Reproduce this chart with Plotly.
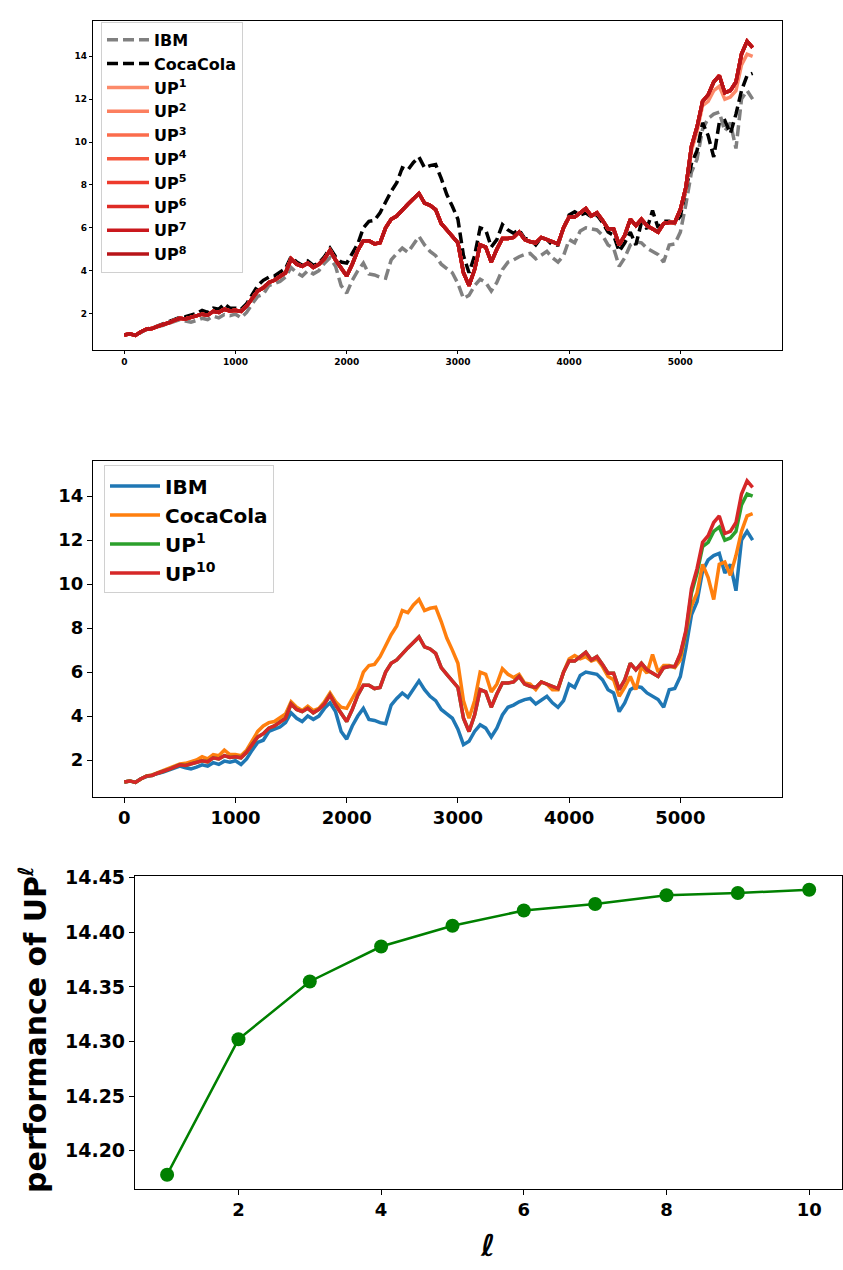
import plotly.graph_objects as go


# trading day index (every 50th day)
days = list(range(0, 5651, 50))

ibm = [
    1.0, 1.05, 0.98, 1.15, 1.25, 1.3, 1.38, 1.45, 1.55, 1.65,
    1.72, 1.65, 1.6, 1.68, 1.78, 1.72, 1.88, 1.8, 1.95, 1.9,
    1.97, 1.8, 2.05, 2.45, 2.8, 2.9, 3.3, 3.4, 3.5, 3.7,
    4.15, 3.9, 3.75, 4.0, 3.85, 4.0, 4.35, 4.6, 4.2, 3.3,
    2.95, 3.55, 4.0, 4.35, 3.85, 3.8, 3.7, 3.65, 4.5, 4.8,
    5.05, 4.85, 5.2, 5.6, 5.2, 4.9, 4.7, 4.3, 4.1, 3.9,
    3.4, 2.7, 2.85, 3.3, 3.6, 3.45, 3.05, 3.45, 4.05, 4.4,
    4.5, 4.65, 4.75, 4.8, 4.55, 4.75, 4.9, 4.6, 4.4, 4.7,
    5.45, 5.3, 5.85, 6.0, 5.95, 5.9, 5.65, 5.2, 5.05, 4.2,
    4.6, 5.2, 5.35, 5.3, 5.05, 4.9, 4.75, 4.4, 5.2, 5.25,
    5.8, 7.1, 8.6, 9.2, 10.6, 11.1, 11.3, 11.4, 10.5, 10.9,
    9.7, 12.0, 12.4, 12.0
]

cocacola = [
    1.0, 1.05, 0.98, 1.15, 1.28, 1.32, 1.42, 1.48, 1.58, 1.7,
    1.82, 1.85, 1.92, 2.0, 2.15, 2.05, 2.25, 2.2, 2.45, 2.25,
    2.25, 2.2, 2.45, 2.9, 3.3, 3.55, 3.7, 3.75, 3.95, 4.1,
    4.65, 4.4, 4.25, 4.45, 4.25, 4.35, 4.65, 5.05, 4.65, 4.4,
    4.35, 4.8, 5.25, 6.0, 6.3, 6.35, 6.7, 7.2, 7.7, 8.1,
    8.8, 8.7, 9.05, 9.3, 8.8, 8.9, 8.95, 8.3, 7.55, 7.0,
    6.4, 4.7, 3.9, 4.7, 6.0, 5.9, 5.1, 5.45, 6.15, 5.9,
    5.75, 5.9, 5.5, 5.45, 5.2, 5.55, 5.45, 5.2, 5.2, 6.0,
    6.6, 6.75, 6.6, 6.7, 6.5, 6.6, 6.25, 5.8, 5.65, 4.9,
    5.3, 5.8, 5.2, 6.25, 5.95, 6.8, 6.0, 6.3, 6.3, 6.2,
    6.55, 7.8, 9.0, 9.6, 10.9, 10.3, 9.3, 10.9, 11.0, 10.4,
    11.3, 12.4, 13.1, 13.2
]

# UP^l curves coincide up to day ~5000
up_base = [
    1.0, 1.05, 0.98, 1.15, 1.27, 1.3, 1.4, 1.47, 1.57, 1.68,
    1.78, 1.75, 1.82, 1.88, 1.97, 1.92, 2.1, 2.05, 2.2, 2.12,
    2.15, 2.1, 2.35, 2.7, 3.05, 3.2, 3.45, 3.55, 3.75, 3.9,
    4.55, 4.3, 4.2, 4.35, 4.15, 4.3, 4.55, 4.95, 4.5, 4.1,
    3.75, 4.3, 4.95, 5.4, 5.4, 5.25, 5.3, 6.0, 6.4, 6.55,
    6.85, 7.1, 7.35, 7.6, 7.15, 7.05, 6.85, 6.2, 5.9, 5.6,
    5.3, 3.9, 3.3, 4.05, 5.2, 5.1, 4.4, 5.0, 5.5, 5.5,
    5.55, 5.8, 5.45, 5.35, 5.3, 5.55, 5.45, 5.35, 5.25, 6.0,
    6.5, 6.5, 6.7, 6.9, 6.55, 6.7, 6.35, 5.95, 5.95, 5.2,
    5.65, 6.4, 6.1, 6.4, 6.1, 5.95, 5.8, 6.2, 6.25, 6.25
]

up1_tail = [6.8, 7.8, 9.6, 10.5, 11.7, 11.9, 12.4, 12.6, 12.0, 12.1, 12.4, 13.6, 14.1, 14.0]
up10_tail = [6.85, 7.9, 9.8, 10.7, 11.9, 12.2, 12.8, 13.1, 12.3, 12.4, 12.8, 14.1, 14.7, 14.4]

ells = [1, 2, 3, 4, 5, 6, 7, 8, 9, 10]
performance = [14.178, 14.302, 14.355, 14.387, 14.406, 14.420, 14.426, 14.434, 14.436, 14.439]

reds = ["#fc8a6a", "#fc7f5f", "#fb6c4c", "#f6583e", "#ee3a2c", "#de2b25", "#ca181d", "#b81419"]

W, H = 843, 1270
BOLD = dict(family="DejaVu Sans", color="black", weight="bold")


def dom_x(a, b):
    return [a / W, b / W]


def dom_y(top, bottom):
    return [1 - bottom / H, 1 - top / H]


fig = go.Figure()

# ---- top panel: dashed stocks + UP^1..UP^8
fig.add_trace(
    go.Scatter(
        x=days, y=ibm, mode="lines", name="IBM",
        line=dict(color="#808080", width=3.5, dash="11px,5px"),
        xaxis="x", yaxis="y", legend="legend"
    )
)
fig.add_trace(
    go.Scatter(
        x=days, y=cocacola, mode="lines", name="CocaCola",
        line=dict(color="black", width=3.5, dash="11px,5px"),
        xaxis="x", yaxis="y", legend="legend"
    )
)
for i, color in enumerate(reds):
    tail = up1_tail if i == 0 else up10_tail
    fig.add_trace(
        go.Scatter(
            x=days, y=up_base + tail, mode="lines",
            name="UP<sup>%d</sup>" % (i + 1),
            line=dict(color=color, width=3.5),
            xaxis="x", yaxis="y", legend="legend"
        )
    )

# ---- middle panel
middle = [
    ("IBM", ibm, "#1f77b4"),
    ("CocaCola", cocacola, "#ff7f0e"),
    ("UP<sup>1</sup>", up_base + up1_tail, "#2ca02c"),
    ("UP<sup>10</sup>", up_base + up10_tail, "#d62728"),
]
for name, values, color in middle:
    fig.add_trace(
        go.Scatter(
            x=days, y=values, mode="lines", name=name,
            line=dict(color=color, width=3.5),
            xaxis="x2", yaxis="y2", legend="legend2"
        )
    )

# ---- bottom panel
fig.add_trace(
    go.Scatter(
        x=ells, y=performance, mode="lines+markers",
        line=dict(color="green", width=2.5),
        marker=dict(color="green", size=14),
        showlegend=False, xaxis="x3", yaxis="y3"
    )
)

axis_common = dict(
    showline=True, mirror=True, linecolor="black", linewidth=1.2,
    ticks="outside", tickcolor="black", showgrid=False, zeroline=False
)

fig.update_layout(
    width=W, height=H,
    margin=dict(l=0, r=0, t=0, b=0),
    plot_bgcolor="white", paper_bgcolor="white",
    xaxis=dict(
        domain=dom_x(93, 782), anchor="y", range=[-281, 5914],
        tickvals=[0, 1000, 2000, 3000, 4000, 5000], ticklen=3,
        tickfont=dict(size=9, **BOLD), **axis_common
    ),
    yaxis=dict(
        domain=dom_y(11, 343), anchor="x", range=[0.285, 15.65],
        tickvals=[2, 4, 6, 8, 10, 12, 14], ticklen=3,
        tickfont=dict(size=9, **BOLD), **axis_common
    ),
    xaxis2=dict(
        domain=dom_x(93, 782), anchor="y2", range=[-281, 5914],
        tickvals=[0, 1000, 2000, 3000, 4000, 5000], ticklen=5,
        tickfont=dict(size=18, **BOLD), **axis_common
    ),
    yaxis2=dict(
        domain=dom_y(455, 793), anchor="x2", range=[0.33, 15.58],
        tickvals=[2, 4, 6, 8, 10, 12, 14], ticklen=5,
        tickfont=dict(size=18, **BOLD), **axis_common
    ),
    xaxis3=dict(
        domain=dom_x(135, 842), anchor="y3", range=[0.55, 10.46],
        tickvals=[2, 4, 6, 8, 10], ticklen=5,
        tickfont=dict(size=18, **BOLD), **axis_common
    ),
    yaxis3=dict(
        domain=dom_y(873, 1188), anchor="x3", range=[14.1652, 14.4515],
        tickvals=[14.20, 14.25, 14.30, 14.35, 14.40, 14.45],
        ticktext=["14.20", "14.25", "14.30", "14.35", "14.40", "14.45"],
        ticklen=5, tickfont=dict(size=19, **BOLD), **axis_common
    ),
    legend=dict(
        x=101 / W, y=1 - 12 / H, xanchor="left", yanchor="top",
        font=dict(size=16, **BOLD),
        bgcolor="rgba(255,255,255,0.8)", bordercolor="#d0d0d0", borderwidth=1,
        itemwidth=42
    ),
    legend2=dict(
        x=104 / W, y=1 - 459 / H, xanchor="left", yanchor="top",
        font=dict(size=20, **BOLD),
        bgcolor="rgba(255,255,255,0.8)", bordercolor="#d0d0d0", borderwidth=1,
        itemwidth=50
    ),
)

# axis labels of the bottom panel
fig.add_annotation(
    text="performance of UP<sup>ℓ</sup>", textangle=-90,
    x=34 / W, y=1 - 1028 / H, xref="paper", yref="paper",
    xanchor="center", yanchor="middle",
    showarrow=False, font=dict(size=30, **BOLD)
)
fig.add_annotation(
    text="<i>ℓ</i>",
    x=487 / W, y=1 - 1245 / H, xref="paper", yref="paper",
    xanchor="center", yanchor="middle",
    showarrow=False, font=dict(size=30, **BOLD)
)

fig.write_html(
    "out.html",
    config={"displayModeBar": False},
    post_script="document.body.style.margin = '0';"
)
